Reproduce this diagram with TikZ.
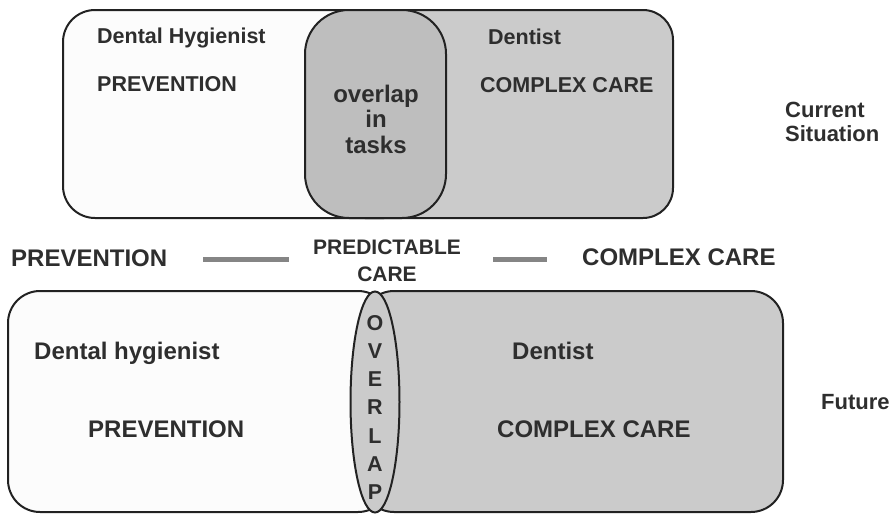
\documentclass[tikz,border=0pt]{standalone}
\usepackage{fontspec}
\setmainfont{Liberation Sans}
\usetikzlibrary{shapes.geometric}
\definecolor{txt}{HTML}{2E2E2E}
\definecolor{edge}{HTML}{222222}
\definecolor{lightbox}{HTML}{FCFCFC}
\definecolor{graybox}{HTML}{CBCBCB}
\definecolor{overbox}{HTML}{BEBEBE}
\definecolor{barcol}{HTML}{858585}
\tikzset{
  boxframe/.style={draw=edge, line width=2pt},
  lbl/.style={text=txt, inner sep=0pt, font=\bfseries\fontsize{#1}{#1}\selectfont},
  lbl/.default=21.5,
  bar/.style={draw=barcol, line width=5pt},
}
\begin{document}
\begin{tikzpicture}[x=1pt,y=-1pt]
\useasboundingbox (0,0) rectangle (892,514);
% ---------- top (current situation)
\draw[boxframe, fill=lightbox, rounded corners=32pt] (63,10) rectangle (416,218);
\draw[boxframe, fill=graybox, rounded corners=30pt] (335,10) rectangle (673,218);
\draw[boxframe, fill=overbox, rounded corners=44pt] (305,10) rectangle (446,218);
\node[lbl, anchor=base west] (dh1) at (97,43) {Dental Hygienist};
\node[lbl, anchor=base west] (pv1) at (97,91) {PREVENTION};
\node[lbl=24, anchor=base] (ov1) at (376,102) {overlap};
\node[lbl=24, anchor=base] (ov2) at (376,127.5) {in};
\node[lbl=24, anchor=base] (ov3) at (376,153) {tasks};
\node[lbl, anchor=base west] (dt1) at (488,44) {Dentist};
\node[lbl, anchor=base west] (cc1) at (480,92) {COMPLEX CARE};
\node[lbl=22, anchor=base west] (cur) at (785,117) {Current};
\node[lbl=22, anchor=base west] (sit) at (785,141) {Situation};
% ---------- middle scale
\node[lbl=24, anchor=base west] (pvm) at (11,266) {PREVENTION};
\node[lbl=21, anchor=base] (pc1) at (387,254) {PREDICTABLE};
\node[lbl=21, anchor=base] (pc2) at (387,281) {CARE};
\node[lbl=24, anchor=base west] (ccm) at (582,265.5) {COMPLEX CARE};
\coordinate (b1a) at (203,259.5);
\coordinate (b1b) at (289,259.5);
\coordinate (b2a) at (493,259.5);
\coordinate (b2b) at (547,259.5);
\draw[bar] (b1a) -- (b1b);
\draw[bar] (b2a) -- (b2b);
% ---------- bottom (future)
\draw[boxframe, fill=lightbox, rounded corners=32pt] (8,291) rectangle (390,512);
\draw[boxframe, fill=graybox, rounded corners=32pt] (362,291) rectangle (783,512);
\node[boxframe, fill=graybox, ellipse, minimum width=49pt, minimum height=221pt, inner sep=0pt] (ovl) at (375,402) {};
\node[lbl=24, anchor=base west] (dh2) at (34,359) {Dental hygienist};
\node[lbl=24, anchor=base west] (pv2) at (88,437) {PREVENTION};
\node[lbl=24, anchor=base west] (dt2) at (512,359) {Dentist};
\node[lbl=24, anchor=base west] (cc2) at (497,437) {COMPLEX CARE};
\node[lbl=22, anchor=base west] (fut) at (821,409) {Future};
\foreach \ch [count=\i] in {O,V,E,R,L,A,P}{
  \node[lbl=21.5, anchor=base] (ol\i) at (375,{330+28.3*(\i-1)}) {\ch};
}
\end{tikzpicture}
\end{document}
